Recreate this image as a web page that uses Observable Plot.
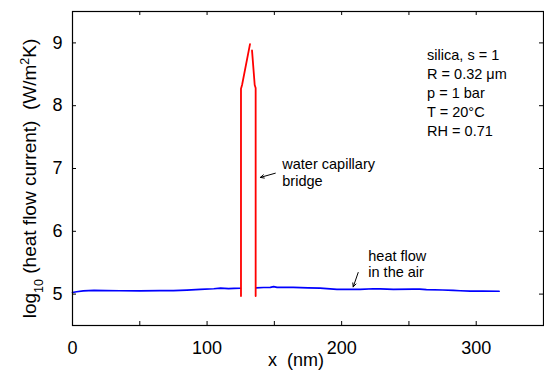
<!DOCTYPE html>
<html><head><meta charset="utf-8">
<script src="https://cdn.jsdelivr.net/npm/d3@7"></script>
<script src="https://cdn.jsdelivr.net/npm/@observablehq/plot@0.6"></script>
<style>html,body{margin:0;padding:0;background:#fff;overflow:hidden}svg{display:block}</style>
</head><body><div id="chart"></div>
<script>
// ---- data ----
const xTicks = [0, 50, 100, 150, 200, 250, 300, 350];
const xTickLabels = [0, 100, 200, 300];
const yTicks = [5, 6, 7, 8, 9];
const xDomain = [0, 350];
const yDomain = [4.5, 9.5];

// heat flow in the air (blue), left and right of the bridge
const airLeft = [[0,5.025],[3,5.037],[8,5.05],[16,5.058],[25,5.055],[35,5.053],[50,5.052],[65,5.054],[75,5.055],[85,5.064],[95,5.075],[105,5.085],[110,5.095],[113,5.09],[116,5.086],[120,5.09],[124.8,5.093]];
const airRight = [[136.2,5.10],[142,5.105],[147,5.108],[149.5,5.12],[152,5.108],[164,5.108],[175,5.1],[184,5.095],[189,5.087],[196.5,5.076],[205,5.074],[213.8,5.074],[223.5,5.085],[228.7,5.083],[238.5,5.074],[253,5.079],[258,5.08],[263,5.07],[275,5.065],[283,5.058],[288,5.053],[295.5,5.047],[305,5.046],[317,5.045]];
// water capillary bridge (red)
const bridgeLeft = [[125.2,4.97],[125.2,8.27],[126.0,8.33],[131.9,8.98]];
const bridgeRight = [[133.4,8.88],[135.4,8.33],[136.1,8.28],[136.1,4.97]];

const yLabelParts = [["log",""],["10","sub"],["\u00a0(heat flow current)\u00a0\u00a0(W/m",""],["2","super"],["K)",""]];
const xLabel = "x\u00a0\u00a0(nm)";
const infoNote = [{x: 263.5, y: 8.215, text: "silica, s = 1\nR = 0.32 \u03bcm\np = 1 bar\nT = 20\u00b0C\nRH = 0.71"}];
const bridgeNote = [{x: 155.9, y: 6.944, text: "water capillary\nbridge"}];
const airNote = [{x: 219.8, y: 5.483, text: "heat flow\nin the air"}];
const arrows = [
  {x1: 150.7, y1: 6.925, x2: 139.6, y2: 6.858},
  {x1: 212.3, y1: 5.344, x2: 208.6, y2: 5.115}
];

// ---- layout ----
const W = 544, H = 379, mL = 72, mR = 1, mT = 11, mB = 54;
const plotW = W - mL - mR, plotH = H - mT - mB;
const tickLen = 4;
const font = "'Liberation Sans', Arial, Helvetica, sans-serif";
const yLabelText = yLabelParts.map(d => d[0]).join("");

const chart = Plot.plot({
  width: W, height: H,
  marginLeft: mL, marginRight: mR, marginTop: mT, marginBottom: mB,
  style: {fontFamily: font, background: "#fff", color: "#000", overflow: "visible"},
  x: {domain: xDomain},
  y: {domain: yDomain},
  marks: [
    Plot.axisX(xTickLabels, {anchor: "bottom", tickSize: 0, tickPadding: 16, fontSize: 18, label: null, tickFormat: "d"}),
    Plot.axisY(yTicks, {anchor: "left", tickSize: 0, tickPadding: 10, fontSize: 18, label: null, tickFormat: "d"}),
    Plot.ruleX(xTicks, {x: d => d, insetTop: plotH - tickLen, stroke: "#000"}),
    Plot.ruleX(xTicks, {x: d => d, insetBottom: plotH - tickLen, stroke: "#000"}),
    Plot.ruleY(yTicks, {y: d => d, insetRight: plotW - tickLen, stroke: "#000"}),
    Plot.ruleY(yTicks, {y: d => d, insetLeft: plotW - tickLen, stroke: "#000"}),
    Plot.line(airLeft, {stroke: "#0000ff", strokeWidth: 1.7}),
    Plot.line(airRight, {stroke: "#0000ff", strokeWidth: 1.7}),
    Plot.line(bridgeLeft, {stroke: "#ff0000", strokeWidth: 1.8}),
    Plot.line(bridgeRight, {stroke: "#ff0000", strokeWidth: 1.8}),
    Plot.text(infoNote, {x: "x", y: "y", text: "text", textAnchor: "start", lineAnchor: "middle", lineHeight: 1.31, fontSize: 14.5, fill: "#000"}),
    Plot.text(bridgeNote, {x: "x", y: "y", text: "text", textAnchor: "start", lineAnchor: "middle", lineHeight: 1.17, fontSize: 14.5, fill: "#000"}),
    Plot.text(airNote, {x: "x", y: "y", text: "text", textAnchor: "start", lineAnchor: "middle", lineHeight: 1.15, fontSize: 14.5, fill: "#000"}),
    Plot.arrow(arrows, {x1: "x1", y1: "y1", x2: "x2", y2: "y2", stroke: "#000", strokeWidth: 1, headLength: 6, headAngle: 50}),
    Plot.text([xLabel], {frameAnchor: "bottom", textAnchor: "middle", dx: -12, dy: 40, fontSize: 18, fill: "#000"}),
    Plot.text([yLabelText], {frameAnchor: "left", textAnchor: "middle", lineAnchor: "middle", dx: -43, dy: 10, rotate: -90, fontSize: 19, fill: "#000"}),
    Plot.frame({stroke: "#000", strokeWidth: 1.2})
  ]
});
document.getElementById("chart").appendChild(chart);

// rebuild the y label with real sub/superscripts
d3.select(chart).selectAll("text").each(function() {
  if (this.textContent === yLabelText) {
    const t = d3.select(this);
    t.text(null);
    for (const [s, kind] of yLabelParts) {
      const sp = t.append("tspan").text(s);
      if (kind) sp.attr("baseline-shift", kind).attr("font-size", 12.5);
    }
  }
});
</script></body></html>
